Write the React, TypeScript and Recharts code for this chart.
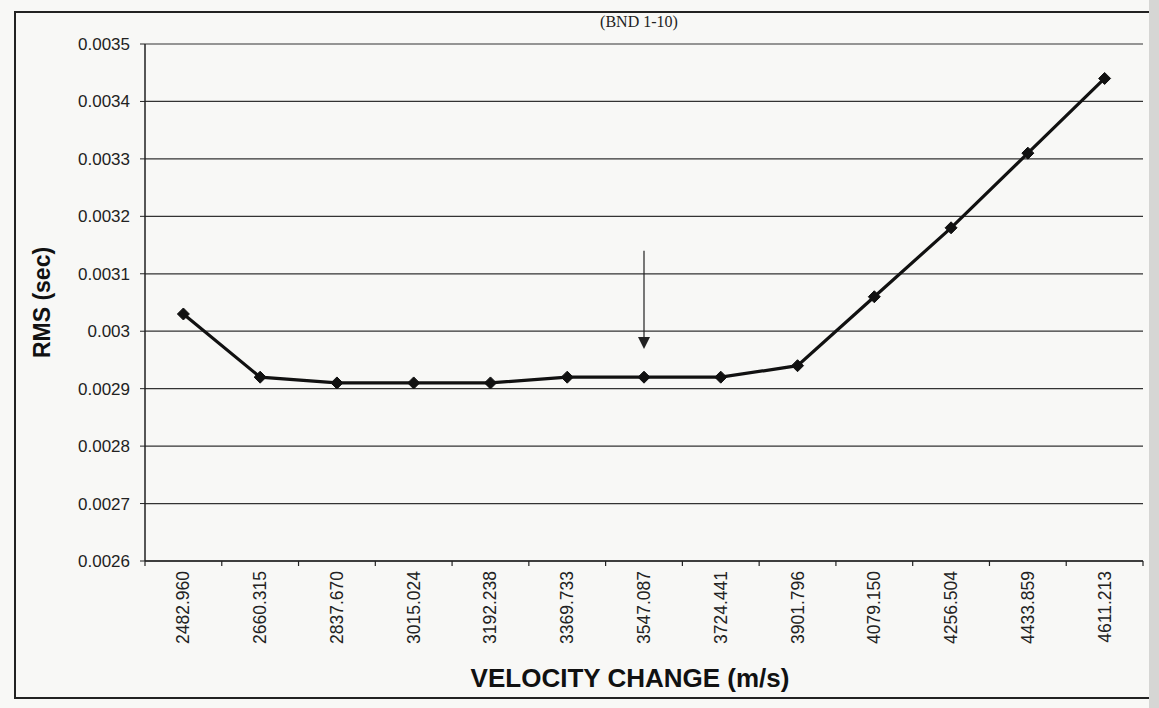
import { LineChart, Line, XAxis, YAxis, CartesianGrid, ReferenceLine, ReferenceDot } from 'recharts'

// velocity steps (m/s) and RMS misfit (sec)
const velocities = [
  '2482.960', '2660.315', '2837.670', '3015.024', '3192.238', '3369.733', '3547.087',
  '3724.441', '3901.796', '4079.150', '4256.504', '4433.859', '4611.213',
]
const rmsValues = [
  0.00303, 0.00292, 0.00291, 0.00291, 0.00291, 0.00292, 0.00292,
  0.00292, 0.00294, 0.00306, 0.00318, 0.00331, 0.00344,
]
const yTicks = [0.0026, 0.0027, 0.0028, 0.0029, 0.003, 0.0031, 0.0032, 0.0033, 0.0034, 0.0035]
const arrowAt = '3547.087'
const arrowFrom = 0.00314
const arrowTo = 0.00299

const W = 1159
const H = 708
const PLOT_LEFT = 145
const PLOT_RIGHT = 1143
const BAND = (PLOT_RIGHT - PLOT_LEFT) / velocities.length
const TICK_SIZE = 5
const TICK_MARGIN = 5
const FONT = '"Liberation Sans", Arial, sans-serif'

const data = velocities.map((v, i) => ({ velocity: v, rms: rmsValues[i] }))

function VelocityTick(props: any) {
  const { x, y, payload, index } = props
  const axisY = y - TICK_SIZE - TICK_MARGIN
  const last = index === velocities.length - 1
  return (
    <g>
      <line x1={x - BAND / 2} x2={x - BAND / 2} y1={axisY} y2={axisY + TICK_SIZE} stroke="#222" strokeWidth={1.2} />
      {last && (
        <line x1={x + BAND / 2} x2={x + BAND / 2} y1={axisY} y2={axisY + TICK_SIZE} stroke="#222" strokeWidth={1.2} />
      )}
      <text
        x={x}
        y={y}
        transform={`rotate(-90, ${x}, ${y})`}
        textAnchor="end"
        dominantBaseline="central"
        fontFamily={FONT}
        fontSize={17.5}
        fill="#222"
      >
        {payload.value}
      </text>
    </g>
  )
}

function diamond(props: any) {
  const { cx, cy, index } = props
  const r = 6
  return (
    <polygon
      key={`d-${index}`}
      points={`${cx},${cy - r} ${cx + r},${cy} ${cx},${cy + r} ${cx - r},${cy}`}
      fill="#111"
      stroke="#111"
    />
  )
}

function arrowHead(props: any) {
  const { cx, cy } = props
  return <polygon points={`${cx - 6},${cy} ${cx + 6},${cy} ${cx},${cy + 12}`} fill="#222" />
}

export default function App() {
  return (
    <div style={{ position: 'absolute', left: 0, top: 0, width: W, height: H, background: '#f8f8f6', overflow: 'hidden' }}>
      <div
        style={{
          position: 'absolute',
          left: 14,
          top: 11,
          width: 1160,
          height: 688,
          border: '2px solid #222',
          boxSizing: 'border-box',
        }}
      />
      <div style={{ position: 'absolute', right: 0, top: 0, width: 10, height: H, background: '#d6d6d4' }} />
      <div
        style={{
          position: 'absolute',
          left: 639,
          top: 13,
          transform: 'translateX(-50%)',
          fontFamily: '"Liberation Serif", "Times New Roman", serif',
          fontSize: 16,
          color: '#222',
        }}
      >
        (BND 1-10)
      </div>
      <div style={{ position: 'absolute', left: 0, top: 0 }}>
        <LineChart width={W} height={H} data={data} margin={{ top: 44, right: W - PLOT_RIGHT, bottom: 0, left: 0 }}>
          <CartesianGrid yAxisId="left" horizontal vertical={false} stroke="#333" strokeWidth={1.2} />
          <XAxis
            dataKey="velocity"
            height={H - 561}
            padding={{ left: BAND / 2, right: BAND / 2 }}
            axisLine={{ stroke: '#222', strokeWidth: 1.5 }}
            tickLine={false}
            tickSize={TICK_SIZE}
            tickMargin={TICK_MARGIN}
            interval={0}
            tick={<VelocityTick />}
            label={{
              content: ({ viewBox }: any) => (
                <text
                  x={viewBox.x + viewBox.width / 2 - 14}
                  y={viewBox.y + 126}
                  textAnchor="middle"
                  fontFamily={FONT}
                  fontWeight="bold"
                  fontSize={26}
                  fill="#111"
                >
                  VELOCITY CHANGE (m/s)
                </text>
              ),
            }}
          />
          <YAxis
            yAxisId="left"
            width={PLOT_LEFT}
            domain={[0.0026, 0.0035]}
            ticks={yTicks}
            interval={0}
            axisLine={{ stroke: '#222', strokeWidth: 1.5 }}
            tickLine={{ stroke: '#222' }}
            tickSize={TICK_SIZE}
            tickMargin={10}
            tick={{ fontFamily: FONT, fontSize: 17, fill: '#222' }}
            label={{
              content: ({ viewBox }: any) => {
                const lx = 42
                const ly = viewBox.y + viewBox.height / 2
                return (
                  <text
                    x={lx}
                    y={ly}
                    transform={`rotate(-90, ${lx}, ${ly})`}
                    textAnchor="middle"
                    dominantBaseline="central"
                    fontFamily={FONT}
                    fontWeight="bold"
                    fontSize={23}
                    fill="#111"
                  >
                    RMS (sec)
                  </text>
                )
              },
            }}
          />
          <YAxis
            yAxisId="right"
            orientation="right"
            width={0}
            domain={[0.0026, 0.0035]}
            tick={false}
            tickLine={false}
            axisLine={{ stroke: '#222', strokeWidth: 1.5 }}
          />
          <ReferenceLine
            yAxisId="left"
            segment={[
              { x: arrowAt, y: arrowFrom },
              { x: arrowAt, y: arrowTo },
            ]}
            stroke="#222"
            strokeWidth={1.2}
          />
          <ReferenceDot yAxisId="left" x={arrowAt} y={arrowTo} r={6} shape={arrowHead} />
          <Line
            yAxisId="left"
            type="linear"
            dataKey="rms"
            stroke="#111"
            strokeWidth={3.2}
            dot={diamond}
            activeDot={false}
            isAnimationActive={false}
          />
        </LineChart>
      </div>
    </div>
  )
}
